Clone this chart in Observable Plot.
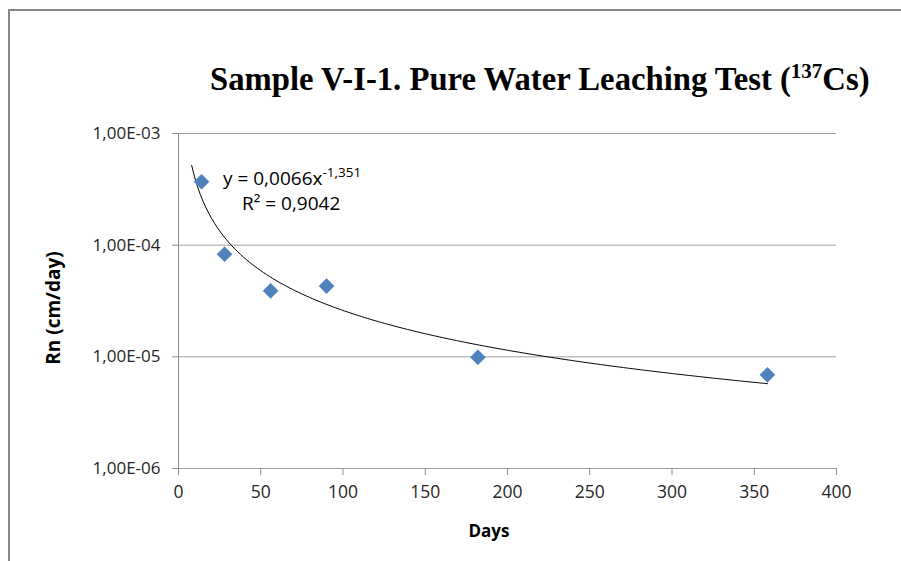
<!DOCTYPE html>
<html>
<head>
<meta charset="utf-8">
<script src="https://cdn.jsdelivr.net/npm/d3@7"></script>
<script src="https://cdn.jsdelivr.net/npm/@observablehq/plot@0.6"></script>
<style>
  html, body { margin: 0; padding: 0; background: #fff; }
  #chart { position: relative; width: 901px; height: 561px; overflow: hidden; font-family: "Open Sans", Lato, sans-serif; }
  #frame { position: absolute; left: 8px; top: 9px; width: 1000px; height: 700px;
           border-top: 2px solid #878787; border-left: 2px solid #878787; box-sizing: border-box; }
  #plot { position: absolute; left: 0; top: 0; }
  #title { position: absolute; left: 210px; top: 60px; white-space: nowrap;
           font-family: "Liberation Serif", "Times New Roman", serif; font-weight: bold;
           font-size: 32.7px; line-height: 38px; color: #000; }
  #title sup { font-size: 21px; line-height: 0; vertical-align: 0.55em; }
  .axis-title { position: absolute; font-weight: bold; color: #000; white-space: nowrap; }
  #xtitle { left: 489px; top: 530px; font-size: 17px; transform: translate(-50%, -50%); }
  #ytitle { left: 53px; top: 308px; font-size: 19px; transform: translate(-50%, -50%) rotate(-90deg); }
  .fit { position: absolute; font-size: 19px; color: #000; white-space: nowrap; line-height: 24px; }
  .fit sup { font-size: 13.5px; line-height: 0; vertical-align: 0.6em; }
  #fit1 { left: 223px; top: 166px; }
  #fit2 { left: 242px; top: 191px; }
</style>
</head>
<body>
<div id="chart">
  <div id="frame"></div>
  <div id="plot"></div>
  <div id="title"></div>
  <div id="xtitle" class="axis-title"></div>
  <div id="ytitle" class="axis-title"></div>
  <div id="fit1" class="fit"></div>
  <div id="fit2" class="fit"></div>
</div>
<script>
// Leaching rate of 137Cs from sample V-I-1 in pure water
const days = [14, 28, 56, 90, 182, 358];
const rn = [3.7e-4, 8.3e-5, 3.9e-5, 4.3e-5, 9.9e-6, 6.9e-6];

const xTicks = [0, 50, 100, 150, 200, 250, 300, 350, 400];
const yTicks = [1e-6, 1e-5, 1e-4, 1e-3];

const titleText = "Sample V-I-1. Pure Water Leaching Test (";
const titleIsotope = "137";
const titleTail = "Cs)";
const xLabel = "Days";
const yLabel = "Rn (cm/day)";

// Trendline equation as printed next to the curve
const fitCoefText = "0,0066";
const fitExpText = "-1,351";
const fitR2Text = "0,9042";
// Trendline drawn backward a few days before the first sample
const trendBackward = 6;

const points = days.map((d, i) => ({day: d, rn: rn[i]}));

// Power trendline: least-squares fit of ln(Rn) against ln(day)
const lx = days.map(Math.log), ly = rn.map(Math.log);
const mx = d3.mean(lx), my = d3.mean(ly);
const b = d3.sum(lx, (v, i) => (v - mx) * (ly[i] - my)) / d3.sum(lx, v => (v - mx) ** 2);
const a = Math.exp(my - b * mx);
const x0 = d3.min(days) - trendBackward, x1 = d3.max(days);
const trend = d3.range(0, 201).map(k => {
  const x = x0 + (x1 - x0) * k / 200;
  return {day: x, rn: a * Math.pow(x, b)};
});

// "1,00E-03" style labels
const sciFormat = v => {
  const [m, e] = v.toExponential(2).split("e");
  const sign = e[0] === "-" ? "-" : "+";
  const digits = e.replace(/^[+-]/, "").padStart(2, "0");
  return m.replace(".", ",") + "E" + sign + digits;
};

const gridColor = "#a0a0a0";
const axisColor = "#8c8c8c";
const labelColor = "#262626";

const chart = Plot.plot({
  width: 901,
  height: 561,
  marginLeft: 178,
  marginRight: 65,
  marginTop: 133,
  marginBottom: 93,
  style: {fontFamily: "'Open Sans', Lato, sans-serif", fontSize: "17.5px", color: labelColor, background: "transparent"},
  x: {domain: [0, 400]},
  y: {type: "log", domain: [1e-6, 1e-3]},
  marks: [
    Plot.ruleY(yTicks, {stroke: gridColor, strokeWidth: 1}),
    Plot.ruleX([0], {stroke: axisColor, strokeWidth: 1}),
    Plot.axisY({ticks: yTicks, tickFormat: sciFormat, tickSize: 6, tickPadding: 12,
                stroke: axisColor, fill: labelColor, fontSize: 17, label: null}),
    Plot.axisX({ticks: xTicks, tickFormat: d => String(d), tickSize: 7, tickPadding: 10,
                stroke: axisColor, fill: labelColor, label: null}),
    Plot.line(trend, {x: "day", y: "rn", stroke: "#000", strokeWidth: 1}),
    Plot.dot(points, {x: "day", y: "rn", symbol: "diamond2", r: 6.8, fill: "#4F81BD", stroke: "#4A7EBB", strokeWidth: 0.5})
  ]
});
document.getElementById("plot").appendChild(chart);

const title = document.getElementById("title");
title.append(titleText);
const sup = document.createElement("sup");
sup.textContent = titleIsotope;
title.append(sup, titleTail);

document.getElementById("xtitle").textContent = xLabel;
document.getElementById("ytitle").textContent = yLabel;

const fit1 = document.getElementById("fit1");
fit1.append("y = " + fitCoefText + "x");
const expo = document.createElement("sup");
expo.textContent = fitExpText;
fit1.append(expo);
document.getElementById("fit2").textContent = "R² = " + fitR2Text;
</script>
</body>
</html>
